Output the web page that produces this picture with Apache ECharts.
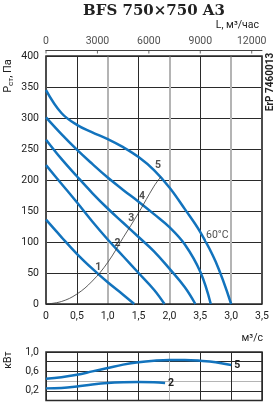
<!DOCTYPE html>
<html><head><meta charset="utf-8">
<script src="https://cdn.jsdelivr.net/npm/echarts@6/dist/echarts.min.js"></script>
<style>html,body{margin:0;padding:0;background:#fff}#c{width:275px;height:406px}</style>
</head><body><div id="c"></div>
<script>
// ---- data ----
const titleText = 'BFS 750×750 A3';
const flowTickLabels = ['0', '0,5', '1,0', '1,5', '2,0', '3,5', '3,0', '3,5'];
const airflowTicks = [0, 3000, 6000, 9000, 12000];
const pressureTicks = [0, 50, 100, 150, 200, 250, 300, 350, 400];
const powerTickLabels = { '0': '0', '0.2': '0,2', '0.6': '0,6', '1': '1,0' };

const curve1 = [[0,136],[0.25,108],[0.5,81],[0.75,57],[1.0,35],[1.25,15],[1.43,0]];
const curve2 = [[0,224],[0.25,194],[0.5,164],[0.75,133],[1.0,104],[1.25,77],[1.5,50],[1.75,23],[1.92,0]];
const curve3 = [[0,265],[0.25,234],[0.5,206],[0.75,179],[1.0,154],[1.25,131],[1.5,108],[1.75,85],[2.0,57],[2.25,27],[2.42,0]];
const curve4 = [[0,301],[0.25,274],[0.5,249],[0.75,226],[1.0,204],[1.25,184],[1.5,165],[1.75,145],[2.0,124],[2.25,96],[2.5,52],[2.67,0]];
const curve5 = [[0,345],[0.25,308],[0.5,289],[0.75,277],[1.0,266],[1.25,253],[1.5,237],[1.75,216],[2.0,188],[2.25,153],[2.5,116],[2.75,68],[3.0,0]];
const systemCurve = [[0,0],[0.25,4],[0.5,16],[0.75,37],[1.0,67],[1.25,107],[1.5,147],[1.75,190],[1.86,205]];
const pointLabels = [[0.845,59,'1'],[1.16,98,'2'],[1.38,138,'3'],[1.556,173,'4'],[1.815,224,'5']];
const tempLabel = [[2.585,110,'60°C']];

const power5 = [[0,0.45],[0.25,0.48],[0.5,0.53],[0.75,0.6],[1.0,0.67],[1.25,0.74],[1.5,0.79],[1.75,0.82],[2.0,0.835],[2.25,0.835],[2.5,0.82],[2.75,0.79],[3.0,0.73]];
const power2 = [[0,0.25],[0.25,0.26],[0.5,0.29],[0.75,0.33],[1.0,0.36],[1.25,0.375],[1.5,0.38],[1.75,0.375],[1.93,0.36]];

// ---- chart ----
const FONT = "'Liberation Sans Narrow', 'Roboto', sans-serif";
const BLUE = '#1273bd';
const DARK = '#2a2a2a';
const GRAY = '#b4b4b4';
const PLOT_W = 216;
const FLOW_MAX = 3.5;            // m³/s at the right edge
const AIRFLOW_EDGE = 12600;      // m³/h at the right edge (3.5 m³/s)

function curveSeries(data) {
  return { type: 'line', xAxisIndex: 0, yAxisIndex: 0, data: data, smooth: 0.4, symbol: 'none',
    lineStyle: { color: BLUE, width: 2.5 }, z: 5, silent: true };
}

const chart = echarts.init(document.getElementById('c'), null, { renderer: 'canvas' });
chart.setOption({
  animation: false,
  backgroundColor: '#fff',
  textStyle: { fontFamily: FONT },
  grid: [
    { left: 46, top: 56, width: PLOT_W, height: 248, show: true, borderColor: DARK, borderWidth: 1.5, backgroundColor: 'transparent', z: 3 },
    { left: 46, top: 352, width: PLOT_W, height: 48.5, show: true, borderColor: DARK, borderWidth: 1.5, backgroundColor: 'transparent', z: 3 },
    { left: 46, top: 50, width: PLOT_W, height: 3 }
  ],
  xAxis: [
    { gridIndex: 0, type: 'value', min: 0, max: FLOW_MAX, interval: 0.5, position: 'bottom',
      axisLine: { show: false }, axisTick: { show: false },
      axisLabel: { margin: 7, fontSize: 10.5, color: '#222', fontFamily: FONT,
        formatter: v => flowTickLabels[Math.round(v / 0.5)] },
      splitLine: { show: true, lineStyle: { color: ['transparent', DARK], width: 1 } } },
    { gridIndex: 0, type: 'value', min: 0, max: FLOW_MAX, interval: 1, position: 'top',
      axisLine: { show: false }, axisTick: { show: false }, axisLabel: { show: false },
      splitLine: { show: true, lineStyle: { color: GRAY, width: 2 } } },
    { gridIndex: 1, type: 'value', min: 0, max: FLOW_MAX, interval: 0.5,
      axisLine: { show: false }, axisTick: { show: false }, axisLabel: { show: false },
      splitLine: { show: true, lineStyle: { color: [DARK, DARK, DARK, DARK, GRAY, DARK, DARK, DARK], width: 1 } } },
    { gridIndex: 2, type: 'value', min: 0, max: AIRFLOW_EDGE, position: 'top',
      axisLine: { show: true, onZero: false, lineStyle: { color: '#444', width: 1 } },
      axisTick: { show: false }, axisLabel: { show: false }, splitLine: { show: false } }
  ],
  yAxis: [
    { gridIndex: 0, type: 'value', min: 0, max: 400, interval: 50,
      axisLine: { show: false }, axisTick: { show: false },
      axisLabel: { margin: 7, fontSize: 10.5, color: '#222', fontFamily: FONT,
        formatter: v => (pressureTicks.indexOf(v) >= 0 ? String(v) : '') },
      splitLine: { show: true, lineStyle: { color: DARK, width: 1 } } },
    { gridIndex: 1, type: 'value', min: 0, max: 1, interval: 0.2,
      axisLine: { show: false }, axisTick: { show: false },
      axisLabel: { margin: 7, fontSize: 10.5, color: '#222', fontFamily: FONT,
        formatter: v => { const k = String(Math.round(v * 10) / 10); return powerTickLabels[k] || ''; } },
      splitLine: { show: true, lineStyle: { color: [DARK, DARK, GRAY, DARK, DARK, DARK], width: 1 } } },
    { gridIndex: 2, type: 'value', show: false, min: 0, max: 1 }
  ],
  series: [
    curveSeries(curve1), curveSeries(curve2), curveSeries(curve3), curveSeries(curve4), curveSeries(curve5),
    { type: 'line', xAxisIndex: 0, yAxisIndex: 0, data: systemCurve, smooth: 0.4, symbol: 'none',
      lineStyle: { color: '#333', width: 0.8 }, z: 6, silent: true },
    { type: 'scatter', xAxisIndex: 0, yAxisIndex: 0, data: pointLabels, symbolSize: 1,
      itemStyle: { color: 'transparent' }, z: 7, silent: true,
      label: { show: true, position: 'inside', formatter: p => p.data[2], fontSize: 10.5, fontWeight: 'bold', color: '#222', fontFamily: FONT } },
    { type: 'scatter', xAxisIndex: 0, yAxisIndex: 0, data: tempLabel, symbolSize: 1,
      itemStyle: { color: 'transparent' }, z: 7, silent: true,
      label: { show: true, position: 'right', distance: 0, formatter: p => p.data[2], fontSize: 10.5, color: '#222', fontFamily: FONT,
        backgroundColor: '#fff', padding: [0, 0] } },
    // airflow scale (m³/h): tick marks and their labels along the top axis line
    { type: 'scatter', xAxisIndex: 3, yAxisIndex: 2, data: airflowTicks.map(v => [v, 1]), clip: false,
      symbol: 'rect', symbolSize: [1, 3.5], symbolOffset: [0, 1.75], itemStyle: { color: '#444' }, z: 7, silent: true,
      label: { show: true, position: 'top', distance: 3, formatter: p => String(p.data[0]), fontSize: 10.5, color: '#222', fontFamily: FONT } },
    { type: 'line', xAxisIndex: 2, yAxisIndex: 1, data: power5, smooth: 0.4, symbol: 'none',
      lineStyle: { color: BLUE, width: 2.5 }, z: 5, silent: true,
      endLabel: { show: true, formatter: '5', distance: 3, fontSize: 10.5, fontWeight: 'bold', color: '#222', fontFamily: FONT } },
    { type: 'line', xAxisIndex: 2, yAxisIndex: 1, data: power2, smooth: 0.4, symbol: 'none',
      lineStyle: { color: BLUE, width: 2.5 }, z: 5, silent: true,
      endLabel: { show: true, formatter: '2', distance: 3, fontSize: 10.5, fontWeight: 'bold', color: '#222', fontFamily: FONT } }
  ],
  graphic: [
    { type: 'text', x: 154, y: 11, style: { text: titleText, fontFamily: "'DejaVu Serif', 'Liberation Serif', serif", fontWeight: 'bold', fontSize: 15, fill: '#222', align: 'center', verticalAlign: 'middle' } },
    { type: 'text', x: 259, y: 25, style: { text: 'L, м³/час', fontFamily: FONT, fontSize: 10.5, fill: '#222', align: 'right', verticalAlign: 'middle' } },
    { type: 'text', x: 263, y: 338, style: { text: 'м³/с', fontFamily: FONT, fontSize: 10.5, fill: '#222', align: 'right', verticalAlign: 'middle' } },
    { type: 'text', x: 8, y: 76, rotation: Math.PI / 2, style: { rich: { a: { fontSize: 11, fontFamily: FONT, fill: '#222' }, s: { fontSize: 8, fontFamily: FONT, fill: '#222', padding: [5, 0, 0, 0] } }, text: '{a|Р}{s|ст}{a|, Па}', align: 'center', verticalAlign: 'middle' } },
    { type: 'text', x: 8, y: 360, rotation: Math.PI / 2, style: { text: 'кВт', fontFamily: FONT, fontSize: 10.5, fill: '#222', align: 'center', verticalAlign: 'middle' } },
    { type: 'text', x: 270, y: 82, rotation: Math.PI / 2, style: { text: 'ErP 7460013', fontFamily: FONT, fontSize: 10, fontWeight: 'bold', fill: '#222', align: 'center', verticalAlign: 'middle' } }
  ]
});
</script></body></html>
